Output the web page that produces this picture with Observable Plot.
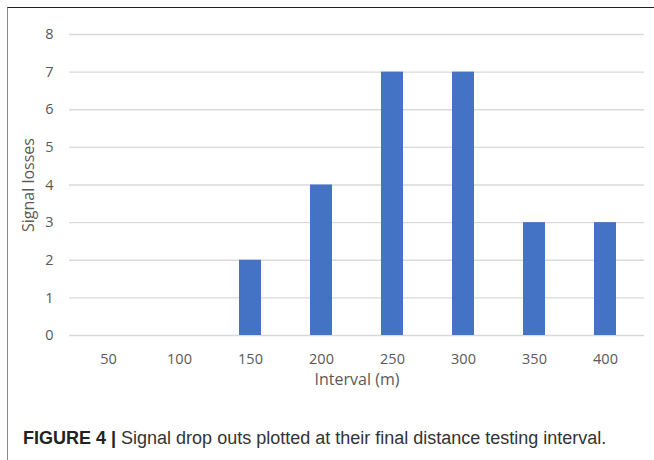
<!DOCTYPE html>
<html>
<head>
<meta charset="utf-8">
<script src="https://cdn.jsdelivr.net/npm/d3@7"></script>
<script src="https://cdn.jsdelivr.net/npm/@observablehq/plot@0.6"></script>
<style>
  body { margin: 0; background: #fff; }
  #wrap { position: relative; width: 654px; height: 460px; overflow: hidden; }
  #frame { position: absolute; left: 7px; top: 7px; right: -5px; bottom: -5px;
           border-top: 1.5px solid #222; border-left: 1.5px solid #8a8a8a; }
  #chart { position: absolute; left: 0; top: 0; }
  #cap { position: absolute; left: 23px; top: 428px; font-family: "Liberation Sans", Arial, sans-serif;
         font-size: 18px; line-height: 20px; color: #333; white-space: nowrap; }
  #cap b { color: #222; }
</style>
</head>
<body>
<div id="wrap">
  <div id="frame"></div>
  <div id="chart"></div>
  <div id="cap"><b>FIGURE 4 |</b> Signal drop outs plotted at their final distance testing interval.</div>
</div>
<script>
const intervals = ["50", "100", "150", "200", "250", "300", "350", "400"];
const losses = [0, 0, 2, 4, 7, 7, 3, 3];
const yTicks = [0, 1, 2, 3, 4, 5, 6, 7, 8];
const xTitle = "Interval (m)";
const yTitle = "Signal losses";

const data = intervals.map((d, i) => ({interval: d, losses: losses[i]}));

const chart = Plot.plot({
  width: 654,
  height: 410,
  marginLeft: 69,
  marginRight: 10,
  marginTop: 34,
  marginBottom: 75,
  style: {fontFamily: "'Open Sans', sans-serif", fontSize: "14px", color: "#595959", background: "transparent", overflow: "visible"},
  x: {domain: intervals, paddingInner: 0.69, paddingOuter: 0.345, label: null},
  y: {domain: [0, 8], label: null},
  marks: [
    Plot.gridY(yTicks, {stroke: "#d9d9d9", strokeOpacity: 1, strokeWidth: 1.3}),
    Plot.barY(data, {x: "interval", y: "losses", fill: "#4472C4"}),
    Plot.axisX({tickSize: 0, tickPadding: 18, label: null, fontSize: 14.5}),
    Plot.axisY({ticks: yTicks, tickSize: 0, tickPadding: 16, label: null, fontSize: 14.5}),
    Plot.text([xTitle], {frameAnchor: "bottom", dy: 49, text: d => d, fontSize: 16, fill: "#595959"}),
    Plot.text([yTitle], {frameAnchor: "left", textAnchor: "middle", dx: -41, rotate: -90, text: d => d, fontSize: 16, fill: "#595959"})
  ]
});
document.getElementById("chart").appendChild(chart);
</script>
</body>
</html>
